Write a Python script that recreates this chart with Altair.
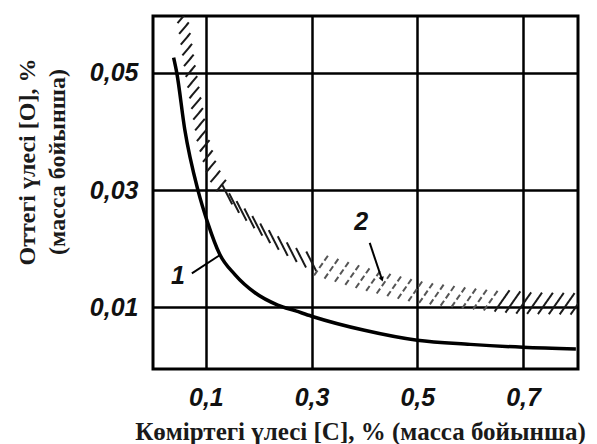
import altair as alt
import numpy as np
import pandas as pd

# ---------------- data ----------------
# curve 1
c1_x = [0.039, 0.045, 0.060, 0.085, 0.104, 0.126, 0.155, 0.193, 0.236, 0.270, 0.300, 0.400, 0.500, 0.600, 0.700, 0.800]
c1_y = [0.0526, 0.0500, 0.0404, 0.0300, 0.0243, 0.0191, 0.0156, 0.0125, 0.0104, 0.0094, 0.0085, 0.0061, 0.0044, 0.0037, 0.0032, 0.0029]

# band 2 : lower/left edge and upper/right edge
b_lo_x = [0.0413, 0.0545, 0.0734, 0.0886, 0.1018, 0.1227, 0.1492, 0.2022, 0.2533, 0.2968, 0.399, 0.4993, 0.5997, 0.700, 0.804]
b_lo_y = [0.0589, 0.0500, 0.0404, 0.0314, 0.0298, 0.0276, 0.0246, 0.0197, 0.0166, 0.0150, 0.0120, 0.0098, 0.0088, 0.0078, 0.0080]
b_hi_x = [0.0697, 0.0886, 0.1075, 0.1548, 0.1643, 0.2306, 0.2968, 0.399, 0.4993, 0.5997, 0.700, 0.804]
b_hi_y = [0.0600, 0.0500, 0.0404, 0.0314, 0.0300, 0.0248, 0.0207, 0.0181, 0.0158, 0.0145, 0.0137, 0.0132]

x_ticks = [0.1, 0.3, 0.5, 0.7]
y_ticks = [0.01, 0.03, 0.05]

label_text = ["1", "2"]
label_x = [0.047, 0.394]
label_y = [0.0153, 0.0246]

# leader of "1" and arrow of "2"
lead_x = [0.0735, 0.410]
lead_y = [0.0158, 0.0210]
lead_x2 = [0.126, 0.433]
lead_y2 = [0.0189, 0.0148]

x_title = "Көміртегі үлесі [С], % (масса бойынша)"
y_title_1 = "Оттегі үлесі [О], %"
y_title_2 = "(масса бойынша)"

# ---------------- layout ----------------
W, H = 425, 353
XD = [0.0, 0.804]
YD = [-0.0005, 0.0597]
sx = W / (XD[1] - XD[0])
sy = H / (YD[1] - YD[0])

xs = alt.Scale(domain=XD, nice=False, zero=False)
ys = alt.Scale(domain=YD, nice=False, zero=False)

# ---------------- hatch strokes of band 2 (decoration) ----------------
def resample(px, py, n):
    d = np.hypot(np.diff(px), np.diff(py))
    s = np.concatenate([[0.0], np.cumsum(d)])
    total = s[-1]
    t = np.linspace(0, 1, n)
    return np.interp(t, s / total, px), np.interp(t, s / total, py), total

Lx, Ly, _ = resample(np.array(b_lo_x) * sx, np.array(b_lo_y) * sy, 400)
Rx, Ry, _ = resample(np.array(b_hi_x) * sx, np.array(b_hi_y) * sy, 400)
Mx, My = (Lx + Rx) / 2, (Ly + Ry) / 2
_, _, mlen = resample(Mx, My, 10)
n_str = int(mlen / 10.5)
Cx, Cy, _ = resample(Mx, My, n_str)

rows = []
for X, Y in zip(Cx, Cy):
    xv, yv = X / sx, Y / sy
    if yv > 0.0305:
        ang, ln, tone = np.deg2rad(50), 15, "dark"
    elif xv < 0.30:
        ang, ln, tone = np.deg2rad(-63), 22, "dark"
    else:
        ang, ln = np.deg2rad(55), 26
        tone = "light" if xv < 0.66 else "dark"
    dx, dy = np.cos(ang) * ln / 2, np.sin(ang) * ln / 2
    rows.append({"x": (X - dx) / sx, "y": (Y - dy) / sy,
                 "x2": (X + dx) / sx, "y2": (Y + dy) / sy, "tone": tone})
hatch_df = pd.DataFrame(rows)

curve_df = pd.DataFrame({"x": c1_x, "y": c1_y})
lab_df = pd.DataFrame({"t": label_text, "x": label_x, "y": label_y})
lead_df = pd.DataFrame({"x": lead_x, "y": lead_y, "x2": lead_x2, "y2": lead_y2})
head_df = pd.DataFrame({"x": [lead_x2[1]], "y": [lead_y2[1]]})

x_axis = alt.Axis(
    values=x_ticks,
    labelExpr="replace(format(datum.value, '.1f'), '.', ',')",
    grid=True, gridColor="black", gridWidth=2.5, gridOpacity=1,
    ticks=False, domain=False,
    labelFont="Liberation Sans", labelFontStyle="italic", labelFontWeight="bold",
    labelFontSize=25, labelColor="#111111", labelPadding=28, labelBaseline="middle",
    title=x_title, titleFont="Liberation Serif", titleFontWeight="bold",
    titleFontSize=25, titleColor="#1a1a1a",
    titleX=207, titleY=62, titleAlign="center", titleBaseline="middle",
)
y_axis = alt.Axis(
    values=y_ticks,
    labelExpr="replace(format(datum.value, '.2f'), '.', ',')",
    grid=True, gridColor="black", gridWidth=2.5, gridOpacity=1,
    ticks=False, domain=False,
    labelFont="Liberation Sans", labelFontStyle="italic", labelFontWeight="bold",
    labelFontSize=25, labelColor="#111111", labelPadding=15,
    title=None,
)

base_grid = alt.Chart(curve_df).mark_line(opacity=0).encode(
    x=alt.X("x:Q", scale=xs, axis=x_axis),
    y=alt.Y("y:Q", scale=ys, axis=y_axis),
)

hatch = alt.Chart(hatch_df).mark_rule(strokeWidth=2, clip=True).encode(
    x=alt.X("x:Q", scale=xs), y=alt.Y("y:Q", scale=ys), x2="x2:Q", y2="y2:Q",
    color=alt.Color("tone:N", scale=alt.Scale(domain=["dark", "light"], range=["#1a1a1a", "#555555"]), legend=None),
    strokeDash=alt.StrokeDash("tone:N", scale=alt.Scale(domain=["dark", "light"], range=[[1, 0], [6, 3]]), legend=None),
)

curve = alt.Chart(curve_df).mark_line(color="black", strokeWidth=3.5, interpolate="monotone").encode(
    x=alt.X("x:Q", scale=xs), y=alt.Y("y:Q", scale=ys)
)

leads = alt.Chart(lead_df).mark_rule(color="black", strokeWidth=2).encode(
    x=alt.X("x:Q", scale=xs), y=alt.Y("y:Q", scale=ys), x2="x2:Q", y2="y2:Q"
)

head = alt.Chart(head_df).mark_point(shape="triangle-down", filled=True, color="black",
                                     size=30, angle=342, opacity=1).encode(
    x=alt.X("x:Q", scale=xs), y=alt.Y("y:Q", scale=ys)
)

labels = alt.Chart(lab_df).mark_text(font="Liberation Sans", fontStyle="italic", fontWeight="bold",
                                      fontSize=25, color="#111111").encode(
    x=alt.X("x:Q", scale=xs), y=alt.Y("y:Q", scale=ys), text="t:N"
)

ytitle1 = alt.Chart(pd.DataFrame({"t": [y_title_1]})).mark_text(
    font="Liberation Serif", fontWeight="bold", fontSize=24, color="#1a1a1a",
    angle=270, align="center", baseline="middle"
).encode(x=alt.value(-125), y=alt.value(146), text="t:N")

ytitle2 = alt.Chart(pd.DataFrame({"t": [y_title_2]})).mark_text(
    font="Liberation Serif", fontWeight="bold", fontSize=24, color="#1a1a1a",
    angle=270, align="center", baseline="middle"
).encode(x=alt.value(-95), y=alt.value(146), text="t:N")

chart = alt.layer(base_grid, hatch, curve, leads, head, labels, ytitle1, ytitle2).properties(
    width=W, height=H,
    autosize=alt.AutoSizeParams(type="none"),
    padding={"left": 145, "top": 8, "right": 11, "bottom": 75},
    background="white",
).configure_view(stroke="black", strokeWidth=3)

chart.save("out.html", embed_options={"renderer": "svg", "actions": False})
